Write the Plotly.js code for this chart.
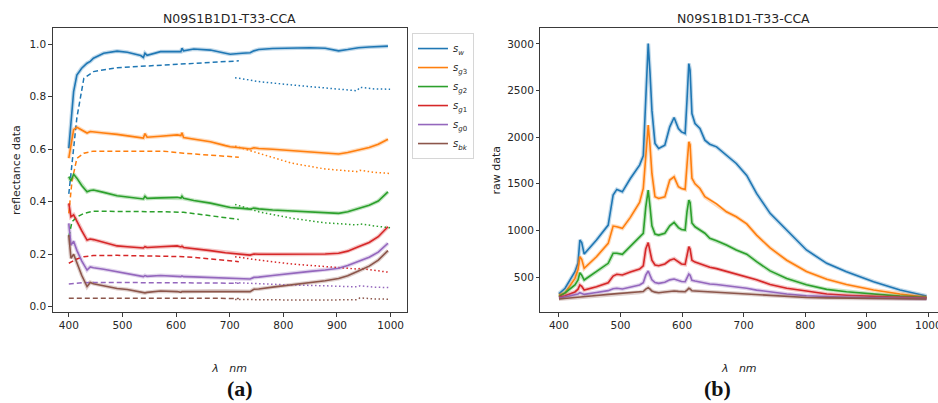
<!DOCTYPE html>
<html>
<head>
<meta charset="utf-8">
<script src="https://cdn.plot.ly/plotly-3.0.1.min.js"></script>
<style>html,body{margin:0;padding:0;background:#fff;}#chart{width:938px;height:403px;}</style>
</head>
<body>
<div id="chart"></div>
<script>
// ---------- DATA ----------
var seriesNames = ['<i>s</i><sub><i>w</i></sub>', '<i>s</i><sub><i>g</i>3</sub>', '<i>s</i><sub><i>g</i>2</sub>',
                   '<i>s</i><sub><i>g</i>1</sub>', '<i>s</i><sub><i>g</i>0</sub>', '<i>s</i><sub><i>bk</i></sub>'];

// (a) reflectance, measured (solid)
var wlRefl = [400, 404, 409, 415, 424, 434, 440, 446, 465, 490, 509, 534, 539, 542, 546, 571, 602, 609, 611, 614, 633, 664, 692, 701, 723, 738, 745, 754, 780, 816, 850, 878, 903, 920, 940, 960, 977, 995];
var reflW  = [0.604, 0.69, 0.82, 0.883, 0.909, 0.928, 0.935, 0.947, 0.966, 0.974, 0.970, 0.957, 0.950, 0.966, 0.958, 0.972, 0.974, 0.972, 0.985, 0.975, 0.982, 0.978, 0.966, 0.962, 0.966, 0.968, 0.975, 0.980, 0.984, 0.987, 0.987, 0.985, 0.975, 0.980, 0.987, 0.990, 0.991, 0.993];
var reflG3 = [0.566, 0.62, 0.675, 0.684, 0.675, 0.662, 0.668, 0.666, 0.662, 0.657, 0.652, 0.645, 0.643, 0.660, 0.646, 0.650, 0.655, 0.652, 0.663, 0.645, 0.640, 0.629, 0.614, 0.610, 0.605, 0.601, 0.606, 0.603, 0.600, 0.595, 0.589, 0.586, 0.582, 0.588, 0.597, 0.607, 0.619, 0.638];
var reflG2 = [0.496, 0.480, 0.505, 0.490, 0.462, 0.438, 0.443, 0.445, 0.436, 0.423, 0.418, 0.414, 0.411, 0.421, 0.413, 0.415, 0.417, 0.414, 0.421, 0.413, 0.405, 0.395, 0.381, 0.378, 0.375, 0.372, 0.376, 0.373, 0.369, 0.365, 0.361, 0.358, 0.356, 0.362, 0.375, 0.387, 0.403, 0.438];
var reflG1 = [0.394, 0.343, 0.350, 0.325, 0.290, 0.254, 0.258, 0.256, 0.246, 0.232, 0.229, 0.226, 0.224, 0.229, 0.226, 0.229, 0.232, 0.228, 0.231, 0.226, 0.222, 0.214, 0.206, 0.204, 0.200, 0.197, 0.201, 0.200, 0.200, 0.200, 0.200, 0.201, 0.204, 0.212, 0.229, 0.245, 0.267, 0.305];
var reflG0 = [0.318, 0.235, 0.250, 0.215, 0.175, 0.140, 0.152, 0.149, 0.143, 0.134, 0.128, 0.118, 0.115, 0.119, 0.116, 0.119, 0.117, 0.115, 0.118, 0.115, 0.114, 0.112, 0.110, 0.109, 0.107, 0.106, 0.112, 0.113, 0.119, 0.128, 0.135, 0.140, 0.147, 0.157, 0.172, 0.189, 0.208, 0.242];
var reflBk = [0.273, 0.185, 0.200, 0.165, 0.120, 0.077, 0.093, 0.088, 0.080, 0.070, 0.066, 0.056, 0.052, 0.053, 0.055, 0.060, 0.058, 0.055, 0.058, 0.058, 0.060, 0.060, 0.060, 0.060, 0.059, 0.058, 0.067, 0.068, 0.075, 0.083, 0.092, 0.099, 0.108, 0.118, 0.136, 0.155, 0.178, 0.214];

// (a) reference curves, visible range (dashed)
var wlDash = [400, 406, 415, 428, 446, 490, 552, 577, 614, 645, 701, 717];
var dashW  = [0.43, 0.54, 0.72, 0.87, 0.896, 0.911, 0.918, 0.920, 0.924, 0.927, 0.934, 0.937];
var dashG3 = [0.356, 0.48, 0.565, 0.585, 0.593, 0.593, 0.593, 0.593, 0.585, 0.580, 0.572, 0.570];
var dashG2 = [0.267, 0.324, 0.342, 0.356, 0.364, 0.364, 0.362, 0.362, 0.360, 0.352, 0.337, 0.333];
var dashG1 = [0.166, 0.172, 0.182, 0.191, 0.195, 0.196, 0.193, 0.193, 0.191, 0.186, 0.174, 0.172];
var dashG0 = [0.087, 0.088, 0.091, 0.092, 0.093, 0.093, 0.092, 0.092, 0.091, 0.091, 0.090, 0.090];
var dashBk = [0.033, 0.033, 0.033, 0.033, 0.033, 0.033, 0.033, 0.033, 0.033, 0.033, 0.032, 0.032];

// (a) reference curves, NIR range (dotted)
var wlDot = [710, 754, 816, 878, 937, 943, 970, 999];
var dotW  = [0.873, 0.858, 0.845, 0.835, 0.823, 0.836, 0.830, 0.829];
var dotG3 = [0.612, 0.585, 0.547, 0.525, 0.515, 0.520, 0.512, 0.508];
var dotG2 = [0.390, 0.362, 0.337, 0.320, 0.312, 0.316, 0.308, 0.301];
var dotG1 = [0.191, 0.178, 0.163, 0.153, 0.144, 0.146, 0.138, 0.131];
var dotG0 = [0.092, 0.088, 0.083, 0.080, 0.076, 0.080, 0.075, 0.073];
var dotBk = [0.028, 0.026, 0.026, 0.026, 0.027, 0.034, 0.030, 0.029];

// (b) raw data
var wlRaw = [400, 410, 426, 431, 434, 437, 441, 461, 480, 488, 494, 503, 516, 531, 537, 541, 545, 548, 551, 556, 562, 572, 580, 587, 594, 599, 605, 608, 611, 613, 616, 621, 629, 637, 645, 656, 672, 688, 705, 721, 743, 770, 802, 835, 867, 911, 954, 997];
var rawW  = [320, 380, 557, 650, 897, 870, 747, 897, 1057, 1380, 1440, 1414, 1557, 1700, 1800, 2350, 3004, 2682, 2290, 1933, 1879, 1914, 2111, 2211, 2093, 2057, 2040, 2397, 2790, 2718, 2254, 2147, 2093, 1968, 1925, 1896, 1807, 1718, 1590, 1397, 1183, 1004, 790, 647, 557, 450, 361, 297];
var rawG3 = [305, 330, 486, 580, 718, 690, 593, 718, 861, 1047, 1040, 1022, 1140, 1300, 1450, 1750, 2129, 1900, 1611, 1361, 1343, 1360, 1540, 1575, 1468, 1450, 1440, 1700, 1950, 1920, 1560, 1500, 1450, 1361, 1325, 1285, 1200, 1147, 1070, 950, 812, 680, 559, 477, 419, 361, 318, 283];
var rawG2 = [289, 330, 415, 470, 546, 520, 468, 557, 647, 755, 755, 743, 830, 920, 968, 1250, 1432, 1250, 1050, 960, 950, 970, 1050, 1086, 1030, 1010, 1004, 1200, 1325, 1300, 1080, 1039, 1000, 970, 915, 890, 843, 790, 745, 665, 566, 484, 417, 368, 342, 315, 295, 279];
var rawG1 = [283, 300, 340, 370, 415, 400, 361, 395, 439, 510, 530, 522, 555, 585, 620, 800, 870, 780, 680, 630, 622, 640, 680, 696, 660, 640, 635, 740, 825, 800, 680, 660, 640, 618, 605, 590, 560, 535, 505, 470, 420, 380, 350, 318, 305, 290, 282, 275];
var rawG0 = [272, 285, 305, 318, 332, 325, 314, 335, 354, 375, 380, 372, 390, 415, 440, 520, 565, 510, 470, 440, 432, 445, 470, 479, 460, 452, 450, 500, 532, 520, 465, 457, 445, 430, 426, 420, 408, 395, 380, 360, 338, 318, 300, 290, 283, 277, 272, 268];
var rawBk = [265, 270, 282, 286, 289, 290, 290, 302, 314, 318, 320, 322, 328, 338, 345, 370, 386, 370, 350, 338, 332, 340, 348, 350, 346, 344, 343, 360, 379, 372, 352, 350, 347, 343, 340, 336, 332, 326, 318, 308, 300, 288, 281, 276, 273, 270, 267, 264];

var xTicks = [400, 500, 600, 700, 800, 900, 1000];
var yTicksA = [0.0, 0.2, 0.4, 0.6, 0.8, 1.0];
var yTicksB = [500, 1000, 1500, 2000, 2500, 3000];
var chartTitle = 'N09S1B1D1-T33-CCA';

// ---------- STYLE ----------
var colors = ['#1f77b4', '#ff7f0e', '#2ca02c', '#d62728', '#9467bd', '#8c564b'];
var glow   = ['rgba(31,119,180,0.28)', 'rgba(255,127,14,0.28)', 'rgba(44,160,44,0.28)', 'rgba(214,39,40,0.28)', 'rgba(148,103,189,0.28)', 'rgba(140,86,75,0.28)'];
var reflAll = [reflW, reflG3, reflG2, reflG1, reflG0, reflBk];
var dashAll = [dashW, dashG3, dashG2, dashG1, dashG0, dashBk];
var dotAll  = [dotW, dotG3, dotG2, dotG1, dotG0, dotBk];
var rawAll  = [rawW, rawG3, rawG2, rawG1, rawG0, rawBk];

var traces = [];
for (var i = 0; i < 6; i++) {
  traces.push({x: wlRefl, y: reflAll[i], xaxis: 'x', yaxis: 'y', mode: 'lines', showlegend: false, hoverinfo: 'skip',
               line: {color: glow[i], width: 4}});
}
for (var i = 0; i < 6; i++) {
  traces.push({x: wlDash, y: dashAll[i], xaxis: 'x', yaxis: 'y', mode: 'lines', showlegend: false,
               line: {color: colors[i], width: 1.5, dash: '5px,3px'}});
  traces.push({x: wlDot, y: dotAll[i], xaxis: 'x', yaxis: 'y', mode: 'lines', showlegend: false,
               line: {color: colors[i], width: 1.5, dash: '1.5px,2.5px'}});
}
for (var i = 0; i < 6; i++) {
  traces.push({x: wlRefl, y: reflAll[i], xaxis: 'x', yaxis: 'y', mode: 'lines', name: seriesNames[i], showlegend: true,
               line: {color: colors[i], width: 1.6}});
}
for (var i = 0; i < 6; i++) {
  traces.push({x: wlRaw, y: rawAll[i], xaxis: 'x2', yaxis: 'y2', mode: 'lines', showlegend: false, hoverinfo: 'skip',
               line: {color: glow[i], width: 4}});
  traces.push({x: wlRaw, y: rawAll[i], xaxis: 'x2', yaxis: 'y2', mode: 'lines', showlegend: false,
               line: {color: colors[i], width: 1.6}});
}

var tickFont = {family: 'DejaVu Sans', size: 10.5, color: '#262626'};
var axisCommon = {showgrid: false, zeroline: false, showline: true, linecolor: '#3a3a3a', linewidth: 1,
                  ticks: 'outside', ticklen: 3.5, tickwidth: 1, tickcolor: '#3a3a3a', tickfont: tickFont};
function ax(extra) { var o = {}; for (var k in axisCommon) o[k] = axisCommon[k]; for (var k in extra) o[k] = extra[k]; return o; }

var labelFont = {family: 'DejaVu Sans', size: 11, color: '#262626'};
var yDom = [0.2258, 0.9298];
var layout = {
  width: 938, height: 403,
  margin: {l: 0, r: 0, t: 0, b: 0},
  paper_bgcolor: '#ffffff', plot_bgcolor: '#ffffff',
  font: {family: 'DejaVu Sans', color: '#262626'},
  xaxis: ax({domain: [0.0562, 0.4336], range: [370, 1030], tickmode: 'array', tickvals: xTicks, mirror: true, anchor: 'y',
             title: {text: '<i>λ\u00a0\u00a0\u00a0nm</i>', font: labelFont, standoff: 34}}),
  yaxis: ax({domain: yDom, range: [-0.0198, 1.061], tickmode: 'array', tickvals: yTicksA, tickformat: '.1f', mirror: true, anchor: 'x',
             title: {text: 'reflectance data', font: labelFont, standoff: 6}}),
  xaxis2: ax({domain: [0.5762, 1], range: [370, 1015.7], tickmode: 'array', tickvals: xTicks, mirror: true, anchor: 'y2',
              ticklabeloverflow: 'allow',
              title: {text: '<i>λ\u00a0\u00a0\u00a0nm</i>', font: labelFont, standoff: 34}}),
  yaxis2: ax({domain: yDom, range: [125, 3168], tickmode: 'array', tickvals: yTicksB, mirror: false, anchor: 'x2',
              title: {text: 'raw data', font: labelFont, standoff: 4}}),
  legend: {x: 0.4392, y: 0.918, xanchor: 'left', yanchor: 'top', bordercolor: '#d6d6d6', borderwidth: 1, bgcolor: '#ffffff',
           font: {family: 'DejaVu Sans', size: 10, color: '#262626'}, tracegroupgap: 0, itemwidth: 30},
  annotations: [
    {text: chartTitle, xref: 'paper', yref: 'paper', x: 0.2449, y: 0.9553, xanchor: 'center', yanchor: 'middle', showarrow: false,
     font: {family: 'DejaVu Sans', size: 12.5, color: '#262626'}},
    {text: chartTitle, xref: 'paper', yref: 'paper', x: 0.7927, y: 0.9553, xanchor: 'center', yanchor: 'middle', showarrow: false,
     font: {family: 'DejaVu Sans', size: 12.5, color: '#262626'}},
    {text: '<b>(a)</b>', xref: 'paper', yref: 'paper', x: 0.2559, y: 0.0372, xanchor: 'center', yanchor: 'middle', showarrow: false,
     font: {family: 'Liberation Serif', size: 22, color: '#111111'}},
    {text: '<b>(b)</b>', xref: 'paper', yref: 'paper', x: 0.7644, y: 0.0372, xanchor: 'center', yanchor: 'middle', showarrow: false,
     font: {family: 'Liberation Serif', size: 22, color: '#111111'}}
  ]
};

Plotly.newPlot('chart', traces, layout, {staticPlot: true, displayModeBar: false});
</script>
</body>
</html>
